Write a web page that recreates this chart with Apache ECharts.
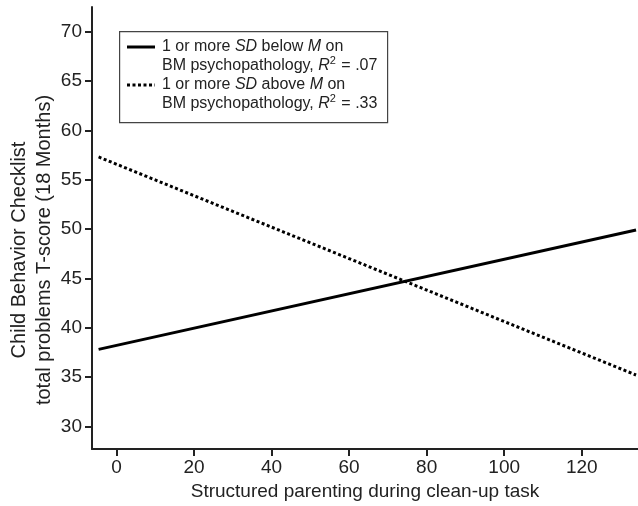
<!DOCTYPE html>
<html>
<head>
<meta charset="utf-8">
<script src="https://cdn.jsdelivr.net/npm/echarts@6/dist/echarts.min.js"></script>
<style>
  html, body { margin: 0; padding: 0; background: #fff; }
  #chart { width: 638px; height: 506px; }
</style>
</head>
<body>
<div id="chart"></div>
<script>
// line end points
var xEnds = [-4.6, 134];
var belowM = [37.8, 49.9];   // 1 or more SD below M
var aboveM = [57.3, 35.2];   // 1 or more SD above M
var xTicks = [0, 20, 40, 60, 80, 100, 120];
var yTicks = [30, 35, 40, 45, 50, 55, 60, 65, 70];

var font = 'Liberation Sans, Arial, Helvetica, sans-serif';

function pairs(ys) {
  return xEnds.map(function (x, i) { return [x, ys[i]]; });
}

var chart = echarts.init(document.getElementById('chart'));

var option = {
  animation: false,
  grid: { left: 92, right: 0, top: 7, bottom: 57, outerBoundsMode: 'none', containLabel: false },
  xAxis: {
    type: 'value',
    min: -6.3,
    max: 134.5,
    name: 'Structured parenting during clean-up task',
    nameLocation: 'middle',
    nameGap: 33,
    nameTextStyle: { fontFamily: font, fontSize: 19, color: '#222' },
    axisLine: { onZero: false, lineStyle: { color: '#222', width: 2 } },
    axisTick: { show: true, inside: false, length: 7, lineStyle: { color: '#222', width: 2 }, customValues: xTicks },
    axisLabel: { fontFamily: font, fontSize: 19, color: '#222', margin: 9, customValues: xTicks },
    splitLine: { show: false }
  },
  yAxis: {
    type: 'value',
    min: 27.7,
    max: 72.5,
    name: 'Child Behavior Checklist\ntotal problems T-score (18 Months)',
    nameLocation: 'middle',
    nameRotate: 90,
    nameGap: 35,
    nameMoveOverlap: false,
    nameTextStyle: { fontFamily: font, fontSize: 20, color: '#222', lineHeight: 25, padding: [0, 44, 0, 0] },
    axisLine: { show: true, onZero: false, lineStyle: { color: '#222', width: 2 } },
    axisTick: { show: true, inside: false, length: 7, lineStyle: { color: '#222', width: 2 }, customValues: yTicks },
    axisLabel: { fontFamily: font, fontSize: 19, color: '#222', margin: 10, customValues: yTicks },
    splitLine: { show: false }
  },
  series: [
    {
      name: 'below',
      type: 'line',
      data: pairs(belowM),
      showSymbol: false,
      lineStyle: { color: '#000', width: 3 }
    },
    {
      name: 'above',
      type: 'line',
      data: pairs(aboveM),
      showSymbol: false,
      lineStyle: { color: '#000', width: 3, type: [3, 2.5] }
    }
  ],
  graphic: [
    {
      type: 'rect',
      left: 119, top: 31,
      shape: { width: 268, height: 91 },
      style: { fill: '#fff', stroke: '#444', lineWidth: 1.2 }
    },
    {
      type: 'line',
      shape: { x1: 127, y1: 47, x2: 155, y2: 47 },
      style: { stroke: '#000', lineWidth: 3 }
    },
    {
      type: 'line',
      shape: { x1: 127, y1: 85, x2: 155, y2: 85 },
      style: { stroke: '#000', lineWidth: 3, lineDash: [3, 2.5] }
    },
    {
      type: 'text',
      left: 162, top: 37,
      style: {
        text: '1 or more {i|SD} below {i|M} on\nBM psychopathology, {i|R}{s|2} = .07\n1 or more {i|SD} above {i|M} on\nBM psychopathology, {i|R}{s|2} = .33',
        fontFamily: font, fontSize: 16, fill: '#222', lineHeight: 19,
        rich: {
          i: { fontFamily: font, fontSize: 16, fontStyle: 'italic', fill: '#222', lineHeight: 19 },
          s: { fontFamily: font, fontSize: 11, fill: '#222', lineHeight: 19, padding: [0, 1, 9, 0] }
        }
      }
    }
  ]
};

chart.setOption(option);
</script>
</body>
</html>
